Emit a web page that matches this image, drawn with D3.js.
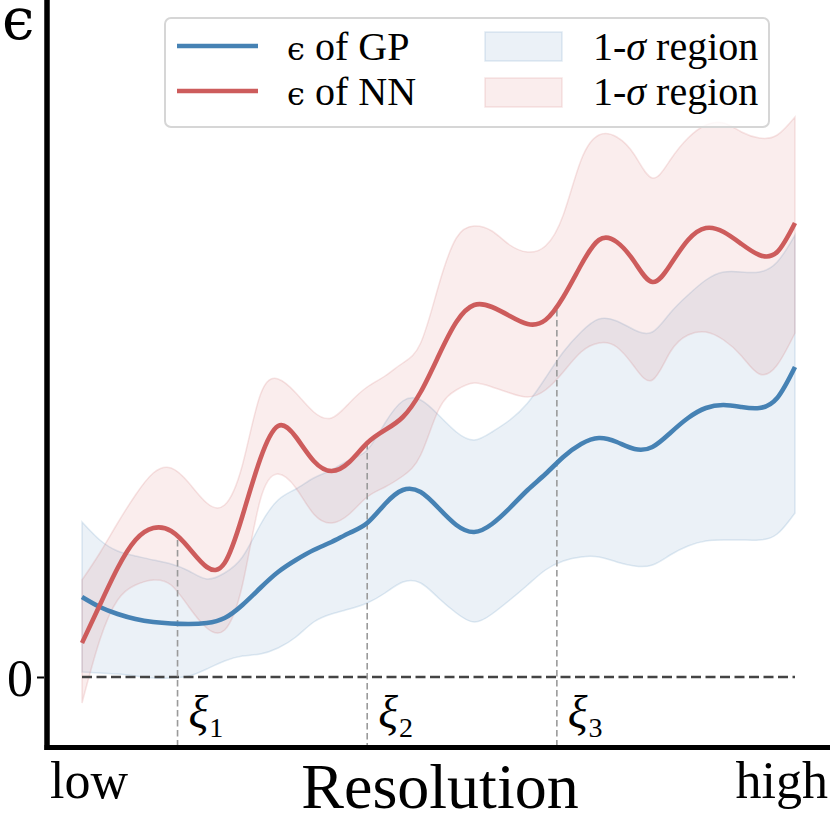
<!DOCTYPE html>
<html><head><meta charset="utf-8">
<script src="https://cdn.jsdelivr.net/npm/d3@7"></script>
<style>
html,body{margin:0;padding:0;background:#fff;}
svg{display:block;}
</style></head>
<body>
<svg id="chart" width="830" height="822"></svg>
<script>
// ---------- data ----------
const resolution = [0,0.5,1,1.5,2,2.5,3,3.5,4,4.5,5,5.5,6,6.5,7,7.5,8,8.5,9,9.5,10,10.5,11,11.5,12,12.5,13,13.5,14,14.5,15,15.5,16,16.5,17,17.5,18,18.5,19,19.5,20];

const gpMean  = [0.80,0.70,0.63,0.58,0.55,0.535,0.53,0.54,0.59,0.72,0.89,1.05,1.17,1.27,1.35,1.44,1.54,1.73,1.87,1.85,1.69,1.52,1.45,1.53,1.69,1.87,2.03,2.20,2.33,2.39,2.35,2.28,2.30,2.44,2.59,2.69,2.72,2.70,2.69,2.79,3.10];
const gpUpper = [1.55,1.37,1.26,1.21,1.17,1.13,1.06,0.98,1.04,1.20,1.52,1.77,1.88,1.99,2.07,2.17,2.27,2.54,2.76,2.77,2.62,2.45,2.37,2.45,2.57,2.74,2.99,3.25,3.45,3.58,3.56,3.47,3.45,3.64,3.82,3.97,4.05,4.05,4.05,4.15,4.42];
const gpLower = [0.05,0.04,0.03,0.01,-0.01,-0.01,0.01,0.08,0.16,0.21,0.23,0.29,0.40,0.55,0.63,0.68,0.74,0.84,0.95,0.94,0.79,0.64,0.55,0.63,0.77,0.92,1.07,1.16,1.20,1.20,1.15,1.11,1.12,1.22,1.31,1.36,1.37,1.37,1.37,1.43,1.64];

const nnMean  = [0.34,0.72,1.09,1.37,1.49,1.46,1.29,1.10,1.14,1.61,2.18,2.51,2.40,2.16,2.06,2.15,2.34,2.47,2.60,2.85,3.21,3.55,3.72,3.70,3.61,3.53,3.57,3.80,4.12,4.37,4.35,4.15,3.95,4.12,4.37,4.49,4.45,4.33,4.22,4.25,4.54];
const nnUpper = [0.97,1.24,1.54,1.82,2.04,2.09,1.94,1.74,1.72,2.12,2.82,2.98,2.84,2.65,2.59,2.74,2.90,3.01,3.14,3.34,3.91,4.39,4.51,4.46,4.32,4.25,4.31,4.62,5.17,5.42,5.40,5.22,4.99,5.17,5.39,5.52,5.54,5.45,5.39,5.42,5.60];
const nnLower = [-0.26,0.37,0.77,0.92,0.97,0.92,0.70,0.49,0.47,0.92,1.77,2.03,1.89,1.63,1.54,1.63,1.80,1.90,2.01,2.22,2.67,2.87,2.94,2.90,2.84,2.80,2.87,3.05,3.25,3.34,3.30,3.10,2.97,3.25,3.42,3.45,3.37,3.21,3.03,3.12,3.44];

const xiPositions = [2.68, 8.0, 13.32];
const xiTops      = [1.37, 2.34, 3.67];
const xiLabels    = ["1", "2", "3"];

const yTickValues = [0];
const xEndLabels  = ["low", "high"];
const legendLines = ["GP", "NN"];

// ---------- drawing ----------
const SERIF = '"Liberation Serif","Times New Roman",serif';
const svg = d3.select("#chart");
const blue = "#4682b4", red = "#cd5c5c";

const x = d3.scaleLinear().domain([0, 20]).range([82, 795]);
const y = d3.scaleLinear().domain([-0.705, 6.77]).range([747.5, 0]);

const pts = (arr) => resolution.map((r, i) => ({ r, v: arr[i] }));
const band = (lo, hi) => resolution.map((r, i) => ({ r, lo: lo[i], hi: hi[i] }));

const curve = d3.curveNatural;
const area = d3.area().x(d => x(d.r)).y0(d => y(d.lo)).y1(d => y(d.hi)).curve(curve);
const line = d3.line().x(d => x(d.r)).y(d => y(d.v)).curve(curve);

const txt = (sel) => sel.attr("font-family", SERIF).attr("fill", "#000");

// bands
svg.append("path").datum(band(gpLower, gpUpper)).attr("d", area)
  .attr("fill", blue).attr("fill-opacity", 0.11)
  .attr("stroke", blue).attr("stroke-opacity", 0.16).attr("stroke-width", 1.5);
svg.append("path").datum(band(nnLower, nnUpper)).attr("d", area)
  .attr("fill", red).attr("fill-opacity", 0.11)
  .attr("stroke", red).attr("stroke-opacity", 0.16).attr("stroke-width", 1.5);

// zero line
svg.append("line")
  .attr("x1", x(resolution[0])).attr("x2", x(resolution[resolution.length - 1]))
  .attr("y1", y(0)).attr("y2", y(0))
  .attr("stroke", "#444").attr("stroke-width", 2.4).attr("stroke-dasharray", "10,4.5");

// xi vertical lines
xiPositions.forEach((p, i) => {
  svg.append("line")
    .attr("x1", x(p)).attr("x2", x(p))
    .attr("y1", y(xiTops[i])).attr("y2", y.range()[0])
    .attr("stroke", "#9a9a9a").attr("stroke-width", 1.6).attr("stroke-dasharray", "6.5,3.5");
  const t = svg.append("text").call(txt).attr("x", x(p) + 11).attr("y", 728).attr("font-size", 46);
  t.append("tspan").attr("font-style", "italic").text("ξ");
  t.append("tspan").attr("dx", 1).attr("dy", 9).attr("font-size", 28).text(xiLabels[i]);
});

// mean lines
svg.append("path").datum(pts(gpMean)).attr("d", line)
  .attr("fill", "none").attr("stroke", blue).attr("stroke-width", 4.6);
svg.append("path").datum(pts(nnMean)).attr("d", line)
  .attr("fill", "none").attr("stroke", red).attr("stroke-width", 4.6);

// y axis tick
const yAxis = d3.axisLeft(y).tickValues(yTickValues).tickSize(7).tickFormat(d3.format("d"));
const gy = svg.append("g").attr("transform", "translate(44,0)").call(yAxis);
gy.select(".domain").remove();
gy.selectAll(".tick line").attr("stroke", "#000").attr("stroke-width", 2);
gy.selectAll(".tick text").attr("x", -11).attr("dy", "0.36em")
  .attr("font-family", SERIF).attr("font-size", 52).attr("fill", "#000");

// spines
svg.append("line").attr("x1", 47).attr("x2", 47).attr("y1", 0).attr("y2", 750)
  .attr("stroke", "#000").attr("stroke-width", 5.5);
svg.append("line").attr("x1", 44.5).attr("x2", 830).attr("y1", 747.5).attr("y2", 747.5)
  .attr("stroke", "#000").attr("stroke-width", 5);

// axis labels
svg.append("text").call(txt).attr("x", 50).attr("y", 798).attr("font-size", 52).text(xEndLabels[0]);
svg.append("text").call(txt).attr("x", 828).attr("y", 798).attr("text-anchor", "end").attr("font-size", 52).text(xEndLabels[1]);
svg.append("text").call(txt).attr("x", 440).attr("y", 808).attr("text-anchor", "middle").attr("font-size", 64).text("Resolution");
svg.append("text").attr("fill", "#000").attr("x", 2).attr("y", 39).attr("font-size", 58)
  .attr("font-family", '"DejaVu Serif",serif').text("ϵ");

// legend
const lg = svg.append("g");
lg.append("rect").attr("x", 165).attr("y", 18).attr("width", 604).attr("height", 109).attr("rx", 6)
  .attr("fill", "#fff").attr("fill-opacity", 0.8).attr("stroke", "#d6d6d6").attr("stroke-width", 2);
[blue, red].forEach((c, i) => {
  const cy = 46 + i * 45;
  lg.append("line").attr("x1", 177).attr("x2", 258).attr("y1", cy).attr("y2", cy)
    .attr("stroke", c).attr("stroke-width", 4.6);
  const t = lg.append("text").call(txt).attr("x", 287).attr("y", 60 + i * 45).attr("font-size", 40);
  t.append("tspan").attr("font-family", '"DejaVu Serif",serif').attr("font-size", 32).text("ϵ");
  t.append("tspan").text(" of " + legendLines[i]);
  lg.append("rect").attr("x", 485).attr("y", 32 + i * 46).attr("width", 77).attr("height", 29)
    .attr("fill", c).attr("fill-opacity", 0.11).attr("stroke", c).attr("stroke-opacity", 0.16).attr("stroke-width", 1.5);
  const t2 = lg.append("text").call(txt).attr("x", 593).attr("y", 60 + i * 45).attr("font-size", 40);
  t2.append("tspan").text("1-");
  t2.append("tspan").attr("font-style", "italic").text("σ");
  t2.append("tspan").text(" region");
});
</script>
</body></html>
